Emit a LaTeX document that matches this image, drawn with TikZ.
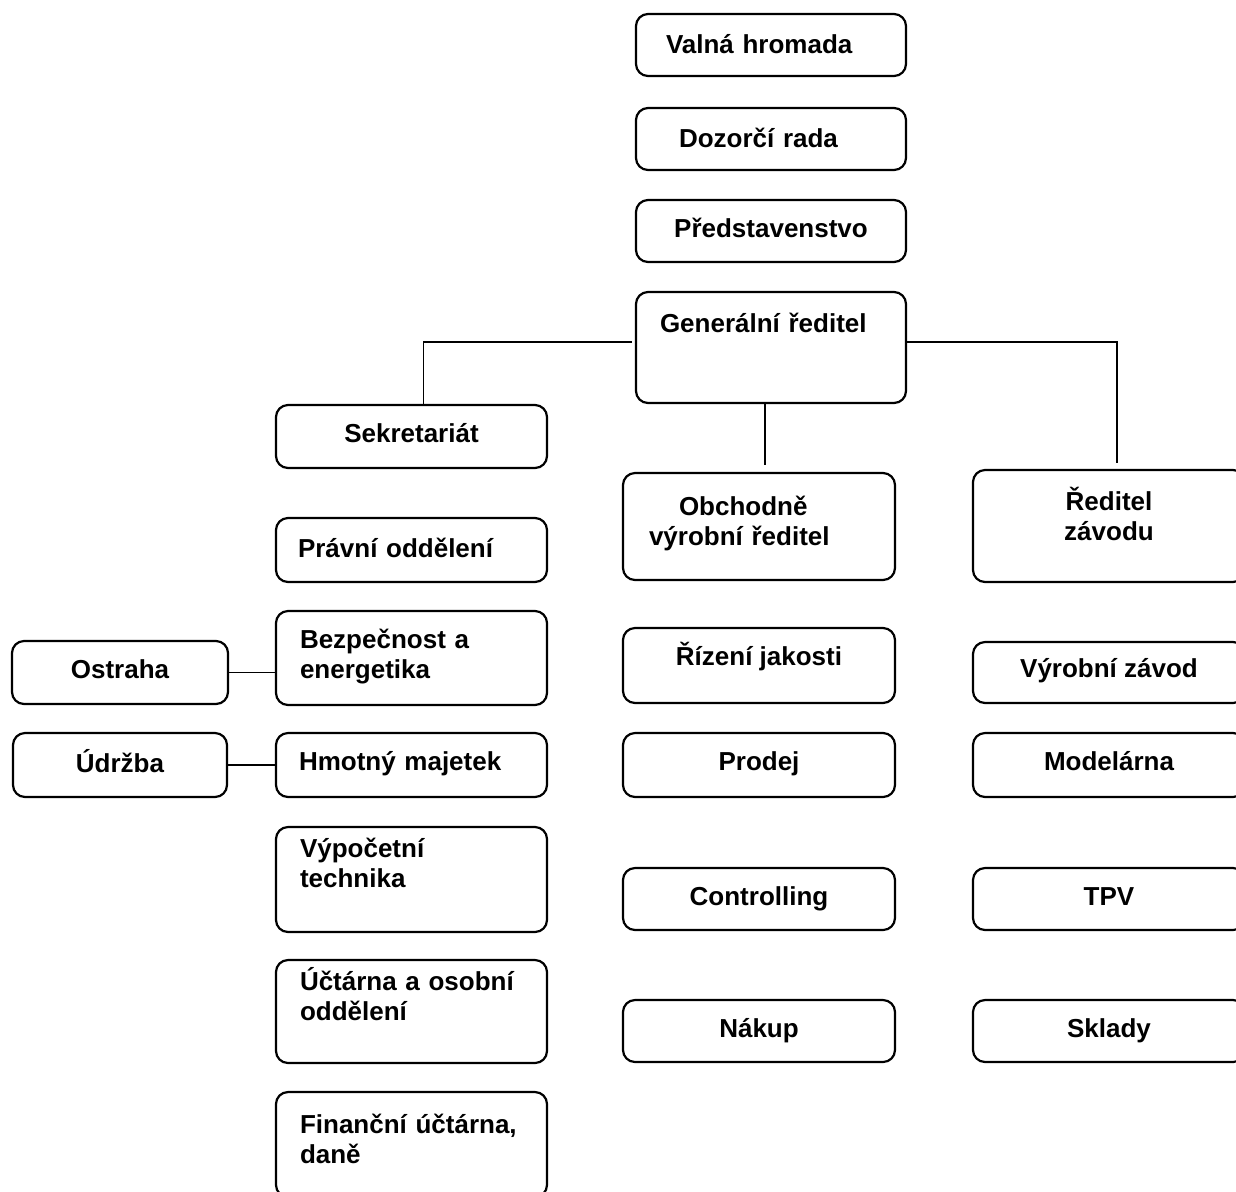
\documentclass[tikz,border=0pt]{standalone}
\usepackage{fontspec}
\setmainfont{Liberation Sans}
\usetikzlibrary{positioning}
\tikzstyle{orgunit} = [rectangle, draw, black, line width=1.1pt, rounded corners=6pt, inner sep=0pt, outer sep=0pt, minimum width=135.5pt, font=\fontsize{13pt}{15.3pt}\selectfont\bfseries]
\tikzstyle{wrapped} = [align=left]
\tikzstyle{link} = [draw, black, line width=0.9pt]

\begin{document}
\begin{tikzpicture}[x=1pt, y=-1pt]
  \useasboundingbox (0,0) rectangle (618,595.5);
  \clip (0,0) rectangle (618,595.5);
  % top of the company
  \node[orgunit, wrapped, minimum width=135pt, text width=105pt, text height=19.5pt, text depth=11.5pt, anchor=north west] (valna) at (318,7) {Valná hromada};
  \node[orgunit, wrapped, minimum width=135pt, text width=92pt, text height=19.5pt, text depth=11.5pt] (dozor) [below=16pt of valna] {Dozorčí rada};
  \node[orgunit, minimum width=135pt, text height=18.5pt, text depth=12.5pt] (pred) [below=15pt of dozor] {Představenstvo};
  \node[orgunit, wrapped, minimum width=135pt, text width=111pt, text height=20pt, text depth=35.5pt] (gr) [below=15pt of pred] {Generální ředitel};
  % staff column
  \node[orgunit, text height=18.5pt, text depth=13pt, anchor=north west] (sekr) at (138,202.5) {Sekretariát};
  \node[orgunit, wrapped, text width=113.5pt, text height=19.5pt, text depth=12.5pt] (pravni) [below=25pt of sekr] {Právní oddělení};
  \node[orgunit, wrapped, text width=111.5pt, text height=18.5pt, text depth=28.5pt] (bezp) [below=14.5pt of pravni] {Bezpečnost a\\energetika};
  \node[orgunit, wrapped, text width=112.5pt, text height=18.5pt, text depth=13.5pt] (hmot) [below=14pt of bezp] {Hmotný majetek};
  \node[orgunit, wrapped, text width=111.5pt, text height=15pt, text depth=37.5pt] (vyp) [below=15pt of hmot] {Výpočetní\\technika};
  \node[orgunit, wrapped, text width=111.5pt, text height=15pt, text depth=36.5pt] (uct) [below=14pt of vyp] {Účtárna a osobní\\oddělení};
  \node[orgunit, wrapped, text width=111.5pt, text height=20.5pt, text depth=32pt] (fin) [below=14.5pt of uct] {Finanční účtárna,\\daně};
  \node[orgunit, minimum width=108pt, text height=18.5pt, text depth=13pt, anchor=north west] (ostraha) at (6,320.5) {Ostraha};
  \node[orgunit, minimum width=107pt, text height=19.5pt, text depth=12.5pt] (udrzba) [below=14.5pt of ostraha] {Údržba};
  % commercial column
  \node[orgunit, wrapped, minimum width=136pt, text width=110pt, text height=21pt, text depth=32.5pt, anchor=north west] (obch) at (311.5,236.5) {\hspace*{15pt}Obchodně\\výrobní ředitel};
  \node[orgunit, minimum width=136pt, text height=18.5pt, text depth=19pt] (rizeni) [below=24pt of obch] {Řízení jakosti};
  \node[orgunit, minimum width=136pt, text height=18.5pt, text depth=13.5pt] (prodej) [below=15pt of rizeni] {Prodej};
  \node[orgunit, minimum width=136pt, text height=18.5pt, text depth=12.5pt] (contr) [below=35.5pt of prodej] {Controlling};
  \node[orgunit, minimum width=136pt, text height=18.5pt, text depth=12.5pt] (nakup) [below=35pt of contr] {Nákup};
  % plant column
  \node[orgunit, align=center, minimum width=136pt, text width=110pt, text height=20pt, text depth=36pt, anchor=north west] (reditel) at (486.5,235) {Ředitel\\závodu};
  \node[orgunit, minimum width=136pt, text height=17.5pt, text depth=13pt] (vyrzav) [below=30pt of reditel] {Výrobní závod};
  \node[orgunit, minimum width=136pt, text height=18.5pt, text depth=13.5pt] (model) [below=15pt of vyrzav] {Modelárna};
  \node[orgunit, minimum width=136pt, text height=18.5pt, text depth=12.5pt] (tpv) [below=35.5pt of model] {TPV};
  \node[orgunit, minimum width=136pt, text height=18.5pt, text depth=12.5pt] (sklady) [below=35pt of tpv] {Sklady};
  % connectors
  \draw[link, shorten <=2pt] ([yshift=2.75pt]gr.west) -| ([xshift=6pt]sekr.north);
  \draw[link, shorten >=4pt] ([xshift=-3pt]gr.south) -- ([xshift=-3pt]gr.south |- obch.north);
  \draw[link, shorten >=3.5pt] ([yshift=2.75pt]gr.east) -| ([xshift=4pt]reditel.north);
  \draw[link] (ostraha.east) -- (ostraha.east -| bezp.west);
  \draw[link] (udrzba) -- (hmot);
\end{tikzpicture}
\end{document}
